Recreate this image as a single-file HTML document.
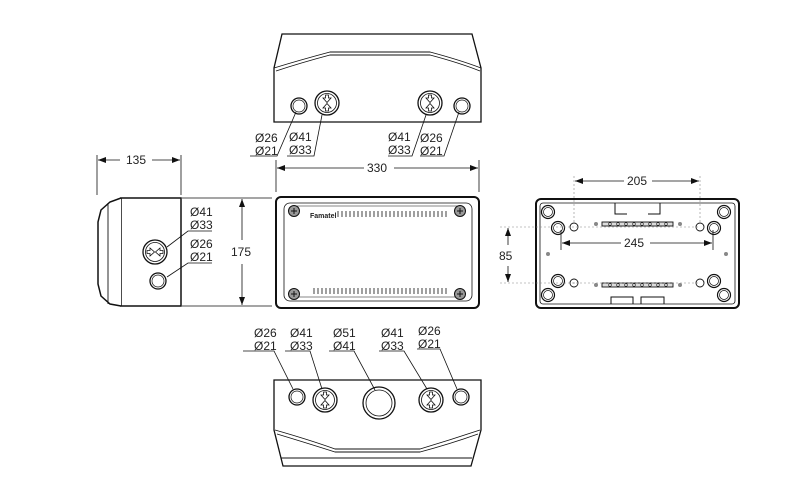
<!DOCTYPE html>
<html><head><meta charset="utf-8"><style>
html,body{margin:0;padding:0;background:#fff;}
svg{display:block;}
text{font-family:"Liberation Sans",sans-serif;font-size:12px;fill:#222;}
</style></head><body>
<svg width="800" height="497" viewBox="0 0 800 497" xmlns="http://www.w3.org/2000/svg">
<defs>
<marker id="a" markerWidth="8" markerHeight="6" refX="8" refY="3" orient="auto-start-reverse" markerUnits="userSpaceOnUse"><path d="M0,0 L8,3 L0,6 z" fill="#111"/></marker>
<g id="bigv"><circle r="12" fill="#fff" stroke="#111" stroke-width="1.3"/><circle r="9.5" fill="none" stroke="#111" stroke-width="0.8"/><path d="M-1.5,-8 h3 v3 h2.5 l-4,4.5 l-4,-4.5 h2.5z M-1.5,8 h3 v-3 h2.5 l-4,-4.5 l-4,4.5 h2.5z" fill="#fff" stroke="#111" stroke-width="0.8"/></g>
<g id="small"><circle r="8" fill="#fff" stroke="#111" stroke-width="1.3"/><circle r="6" fill="none" stroke="#111" stroke-width="0.7"/></g>
<g id="screw"><circle r="5.5" fill="#999" stroke="#111" stroke-width="1"/><path d="M-3,0 h6 M0,-3 v6" stroke="#111" stroke-width="1"/></g>
<g id="hole"><circle r="6.5" fill="#fff" stroke="#111" stroke-width="1.2"/><circle r="4.5" fill="none" stroke="#111" stroke-width="0.7"/></g>
</defs>
<g fill="none" stroke="#111" stroke-width="1.3">
<path d="M274,122 V68 L282,34 H472 L481,68 V122 Z" fill="#fff"/>
<path d="M274,68 Q300,60 330,52 H430 Q460,60 481,68" stroke-width="0.9"/>
<path d="M276,71 Q300,63 330,55 H430 Q460,63 480,71" stroke-width="0.9"/>
</g>
<use href="#small" x="299" y="106"/><use href="#bigv" x="327" y="103"/>
<use href="#bigv" x="430" y="103"/><use href="#small" x="462" y="106"/>
<g stroke="#111" stroke-width="0.8" fill="none">
<path d="M250,156 H277 L296,112"/><path d="M287,156 H314 L322,115"/>
<path d="M388,156 H412 L426,115"/><path d="M420,156 H444 L459,112"/>
</g>
<text x="255" y="142">Ø26</text><text x="255" y="155">Ø21</text>
<text x="289" y="141">Ø41</text><text x="289" y="154">Ø33</text>
<text x="388" y="141">Ø41</text><text x="388" y="154">Ø33</text>
<text x="420" y="142">Ø26</text><text x="420" y="155">Ø21</text>
<g stroke="#111" stroke-width="0.8">
<path d="M276,160 V192 M479,160 V192"/>
<path d="M277,168 H364 M394,168 H478" marker-start="url(#a)" marker-end="url(#a)"/>
</g>
<text x="367" y="172">330</text>
<rect x="276" y="197" width="203" height="111" rx="5" fill="#fff" stroke="#111" stroke-width="2"/>
<rect x="284" y="203" width="188" height="98" rx="6" fill="none" stroke="#111" stroke-width="0.8"/>
<path d="M296,206 H458" stroke="#111" stroke-width="0.6"/>
<path d="M296,297 H458" stroke="#111" stroke-width="0.6"/>
<use href="#screw" x="294" y="211"/><use href="#screw" x="460" y="211"/>
<use href="#screw" x="294" y="294"/><use href="#screw" x="460" y="294"/>
<text x="310" y="218" style="font-size:7px;font-weight:bold">Famatel</text>
<path d="M338,211 V217 M342,211 V217 M346,211 V217 M350,211 V217 M354,211 V217 M358,211 V217 M362,211 V217 M366,211 V217 M370,211 V217 M374,211 V217 M378,211 V217 M382,211 V217 M386,211 V217 M390,211 V217 M394,211 V217 M398,211 V217 M402,211 V217 M406,211 V217 M410,211 V217 M414,211 V217 M418,211 V217 M422,211 V217 M426,211 V217 M430,211 V217 M434,211 V217 M438,211 V217 M442,211 V217 M446,211 V217" stroke="#111" stroke-width="0.8"/>
<path d="M314,288 V294 M318,288 V294 M322,288 V294 M326,288 V294 M330,288 V294 M334,288 V294 M338,288 V294 M342,288 V294 M346,288 V294 M350,288 V294 M354,288 V294 M358,288 V294 M362,288 V294 M366,288 V294 M370,288 V294 M374,288 V294 M378,288 V294 M382,288 V294 M386,288 V294 M390,288 V294 M394,288 V294 M398,288 V294 M402,288 V294 M406,288 V294 M410,288 V294 M414,288 V294 M418,288 V294 M422,288 V294 M426,288 V294 M430,288 V294 M434,288 V294 M438,288 V294 M442,288 V294 M446,288 V294" stroke="#111" stroke-width="0.8"/>
<g stroke="#111" stroke-width="0.8">
<path d="M182,198 H272 M182,306 H272"/>
<path d="M242,199 V240 M242,264 V305" marker-start="url(#a)" marker-end="url(#a)"/>
</g>
<text x="231" y="256">175</text>
<path d="M121,198 H181 V306 H121 Z" fill="#fff" stroke="#111" stroke-width="1.5"/>
<path d="M121,198 L110,202 L101,210 L98,222 V284 L101,296 L110,304 L121,306" fill="#fff" stroke="#111" stroke-width="1.5"/>
<path d="M108,203 V304" stroke="#111" stroke-width="0.9"/>
<g transform="translate(155,252) rotate(90)"><use href="#bigv"/></g>
<use href="#small" x="158" y="281"/>
<g stroke="#111" stroke-width="0.8" fill="none">
<path d="M212,231 H188 L167,247"/><path d="M212,263 H188 L167,277"/>
<path d="M97,155 V195 M181,155 V195"/>
<path d="M98,160 H120 M152,160 H180" marker-start="url(#a)" marker-end="url(#a)"/>
</g>
<text x="190" y="216">Ø41</text><text x="190" y="229">Ø33</text>
<text x="190" y="248">Ø26</text><text x="190" y="261">Ø21</text>
<text x="126" y="164">135</text>
<rect x="536" y="199" width="203" height="109" rx="5" fill="#fff" stroke="#111" stroke-width="2"/>
<rect x="540" y="203" width="195" height="101" rx="3" fill="none" stroke="#111" stroke-width="0.8"/>
<path d="M615,203 V214 H627 M660,203 V214 H648" fill="none" stroke="#111" stroke-width="1"/>
<path d="M611,304 V297 H633 V304 M641,304 V297 H664 V304" fill="none" stroke="#111" stroke-width="1"/>
<use href="#hole" x="548" y="212"/><use href="#hole" x="558" y="228"/>
<use href="#hole" x="558" y="281"/><use href="#hole" x="548" y="295"/>
<use href="#hole" x="724" y="212"/><use href="#hole" x="714" y="228"/>
<use href="#hole" x="714" y="281"/><use href="#hole" x="724" y="295"/>
<g fill="#fff" stroke="#111" stroke-width="0.9">
<ellipse cx="574" cy="227" rx="4" ry="4"/><ellipse cx="700" cy="227" rx="4" ry="4"/>
<ellipse cx="574" cy="283" rx="4" ry="4"/><ellipse cx="700" cy="283" rx="4" ry="4"/>
<rect x="602" y="222" width="71" height="4" fill="#ddd"/>
<rect x="602" y="283" width="71" height="4" fill="#ddd"/>
</g>
<g fill="#fff" stroke="#111" stroke-width="0.6">
<circle cx="610" cy="224" r="1.3"/><circle cx="618" cy="224" r="1.3"/><circle cx="626" cy="224" r="1.3"/><circle cx="634" cy="224" r="1.3"/><circle cx="642" cy="224" r="1.3"/><circle cx="650" cy="224" r="1.3"/><circle cx="658" cy="224" r="1.3"/><circle cx="666" cy="224" r="1.3"/>
<circle cx="610" cy="285" r="1.3"/><circle cx="618" cy="285" r="1.3"/><circle cx="626" cy="285" r="1.3"/><circle cx="634" cy="285" r="1.3"/><circle cx="642" cy="285" r="1.3"/><circle cx="650" cy="285" r="1.3"/><circle cx="658" cy="285" r="1.3"/><circle cx="666" cy="285" r="1.3"/>
</g>
<g fill="#888"><circle cx="596" cy="224" r="2"/><circle cx="680" cy="224" r="2"/><circle cx="596" cy="285" r="2"/><circle cx="680" cy="285" r="2"/><circle cx="548" cy="254" r="2"/><circle cx="726" cy="254" r="2"/></g>
<g stroke="#888" stroke-width="0.6" stroke-dasharray="2,2" fill="none">
<path d="M574,176 V222 M700,176 V222 M500,227 H700 M500,283 H700 M574,278 V288"/>
</g>
<g stroke="#111" stroke-width="0.8">
<path d="M561,230 V250 M713,230 V250"/>
<path d="M575,181 H624 M652,181 H699" marker-start="url(#a)" marker-end="url(#a)"/>
<path d="M562,243 H621 M650,243 H712" marker-start="url(#a)" marker-end="url(#a)"/>
<path d="M508,228 V245 M508,266 V282" marker-start="url(#a)" marker-end="url(#a)"/>
</g>
<text x="627" y="185">205</text><text x="624" y="247">245</text><text x="499" y="260">85</text>
<path d="M274,380 H481 V430 L471,466 H283 L274,430 Z" fill="#fff" stroke="#111" stroke-width="1.3"/>
<path d="M275,430 Q310,440 335,449 H420 Q450,440 480,430" fill="none" stroke="#111" stroke-width="0.9"/>
<path d="M277,434 Q310,444 335,452 H420 Q450,444 478,434" fill="none" stroke="#111" stroke-width="0.9"/>
<path d="M281,458 H472" stroke="#111" stroke-width="0.9"/>
<use href="#small" x="297" y="397"/><use href="#bigv" x="325" y="400"/>
<circle cx="379" cy="403" r="16" fill="#fff" stroke="#111" stroke-width="1.3"/>
<circle cx="379" cy="403" r="13" fill="none" stroke="#111" stroke-width="0.8"/>
<use href="#bigv" x="431" y="400"/><use href="#small" x="461" y="397"/>
<g stroke="#111" stroke-width="0.8" fill="none">
<path d="M243,351 H274 L293,389"/><path d="M285,351 H310 L322,389"/>
<path d="M329,351 H354 L375,390"/><path d="M379,351 H404 L427,389"/>
<path d="M417,349 H440 L457,389"/>
</g>
<text x="254" y="337">Ø26</text><text x="254" y="350">Ø21</text>
<text x="290" y="337">Ø41</text><text x="290" y="350">Ø33</text>
<text x="333" y="337">Ø51</text><text x="333" y="350">Ø41</text>
<text x="381" y="337">Ø41</text><text x="381" y="350">Ø33</text>
<text x="418" y="335">Ø26</text><text x="418" y="348">Ø21</text>
</svg>
</body></html>
